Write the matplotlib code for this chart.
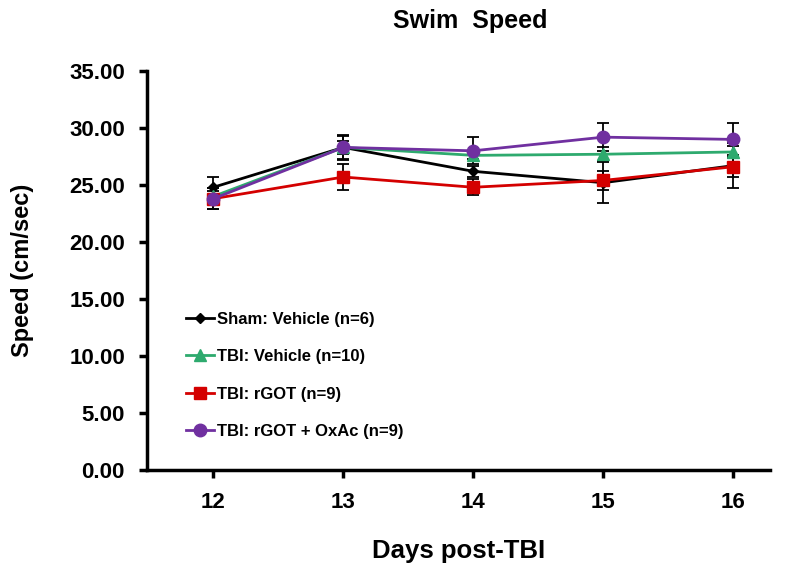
import matplotlib
matplotlib.use("Agg")
import matplotlib.pyplot as plt

plt.rcParams['font.family'] = ['Liberation Sans', 'DejaVu Sans']

days = [12, 13, 14, 15, 16]

sham_vehicle = [24.8, 28.3, 26.2, 25.2, 26.7]
sham_vehicle_err = [0.9, 1.1, 0.5, 1.8, 2.0]

tbi_vehicle = [24.0, 28.3, 27.6, 27.7, 27.9]
tbi_vehicle_err = [0.5, 0.6, 0.3, 0.6, 0.5]

tbi_rgot = [23.8, 25.7, 24.8, 25.4, 26.6]
tbi_rgot_err = [0.9, 1.1, 0.7, 0.8, 0.9]

tbi_rgot_oxac = [23.8, 28.3, 28.0, 29.2, 29.0]
tbi_rgot_oxac_err = [0.9, 1.0, 1.2, 1.2, 1.4]

labels = ["Sham: Vehicle (n=6)", "TBI: Vehicle (n=10)",
          "TBI: rGOT (n=9)", "TBI: rGOT + OxAc (n=9)"]
colors = ["#000000", "#2eaa6e", "#d40000", "#7030a0"]
markers = ["D", "^", "s", "o"]
msizes = [5, 9, 9, 9]

fig = plt.figure(figsize=(7.91, 5.64), dpi=100)
ax = fig.add_axes([0.186, 0.167, 0.787, 0.707])

series = [(sham_vehicle, sham_vehicle_err), (tbi_vehicle, tbi_vehicle_err),
          (tbi_rgot, tbi_rgot_err), (tbi_rgot_oxac, tbi_rgot_oxac_err)]

# error bars first, then lines on top
for (vals, errs) in series:
    ax.errorbar(days, vals, yerr=errs, fmt='none', ecolor='black',
                elinewidth=1.3, capsize=4, capthick=1.3, zorder=2)
for (vals, errs), lab, c, m, ms in zip(series, labels, colors, markers, msizes):
    ax.plot(days, vals, color=c, marker=m, markersize=ms, linewidth=2,
            label=lab, zorder=3)

ax.set_ylim(0, 35)
ax.set_xlim(11.49, 16.28)
ax.set_yticks([0, 5, 10, 15, 20, 25, 30, 35])
ax.set_yticklabels([f"{v:.2f}" for v in [0, 5, 10, 15, 20, 25, 30, 35]])
ax.set_xticks(days)

for side in ['top', 'right']:
    ax.spines[side].set_visible(False)
for side in ['left', 'bottom']:
    ax.spines[side].set_linewidth(2.5)
ax.tick_params(direction='out', length=6, width=2.5, labelsize=16)
ax.tick_params(axis='x', pad=10)
ax.tick_params(axis='y', pad=10)
for t in ax.get_xticklabels() + ax.get_yticklabels():
    t.set_fontweight('bold')

ax.set_xlabel("Days post-TBI", fontsize=18.5, fontweight='bold', labelpad=19)
ax.set_ylabel("Speed (cm/sec)", fontsize=17, fontweight='bold', labelpad=25)
fig.text(0.595, 0.962, "Swim  Speed", ha='center', va='center',
         fontsize=18, fontweight='bold')

leg = ax.legend(loc='lower left', bbox_to_anchor=(0.051, 0.06), frameon=False,
                fontsize=12, handlelength=1.7, handletextpad=0.2,
                labelspacing=1.35, borderaxespad=0)
for t in leg.get_texts():
    t.set_fontweight('bold')

fig.savefig("out.png", dpi=100)
